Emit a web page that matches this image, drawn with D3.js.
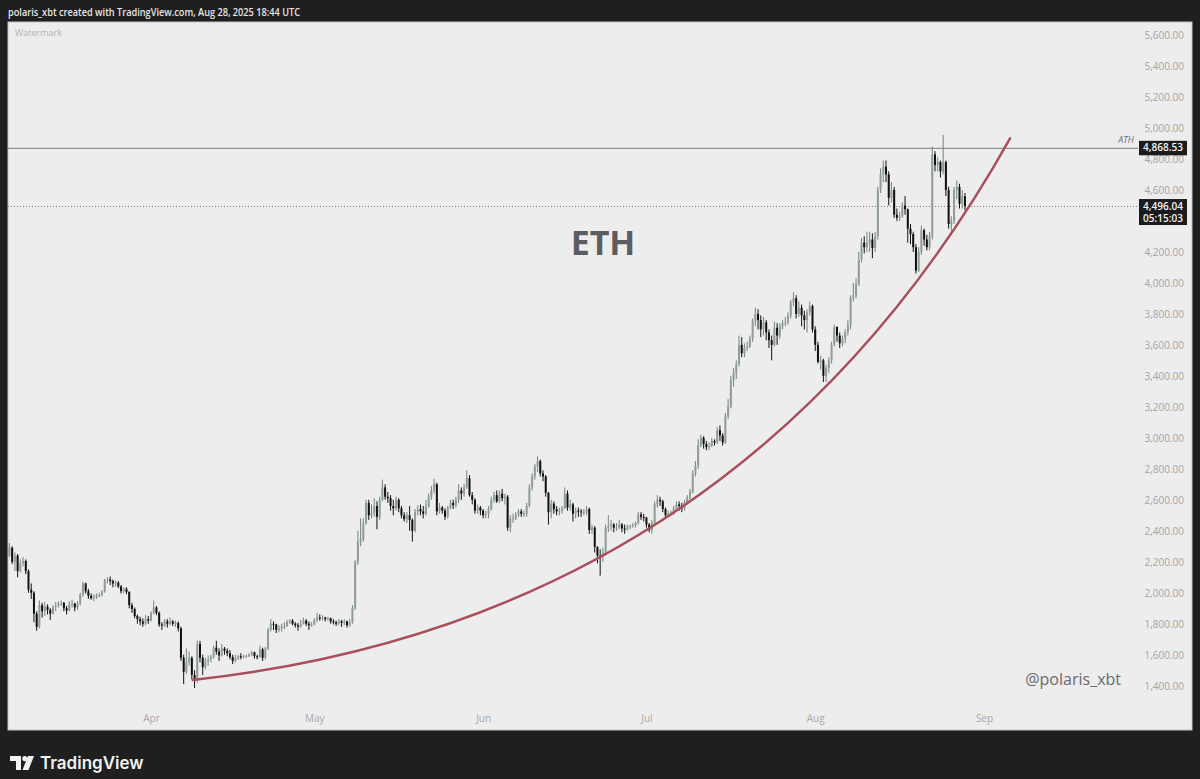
<!DOCTYPE html>
<html><head><meta charset="utf-8">
<script src="https://cdn.jsdelivr.net/npm/d3@7"></script>
<style>html,body{margin:0;padding:0;background:#1f1f1f;overflow:hidden}</style>
</head><body><svg id="c" width="1200" height="779"></svg>
<script>
// ---------------- DATA (ETH/USD, 12h candles) ----------------
const candleStartUTC = "2025-03-06T00:00:00Z";
const candleHours = 12;
const firstOpen = 2240;
const closes = [
// Mar 6 - Mar 31
2290,2200, 2240,2140, 2190,2205, 2140,2020, 2000,1865, 1780,1920, 1880,1910, 1890,1865, 1910,1915, 1930,1935,
1900,1885, 1925,1930, 1905,1930, 1990,2060, 2010,1980, 1965,1970, 1985,1985, 2010,2080, 2085,2075, 2060,2065,
2040,2010, 2025,2005, 1920,1895, 1850,1830, 1815,1800, 1830,1820,
// Apr
1870,1905, 1870,1795, 1790,1815, 1800,1815, 1800,1805, 1770,1580, 1490,1550, 1580,1470, 1440,1670, 1580,1520,
1560,1570, 1585,1645, 1620,1595, 1640,1625, 1610,1585, 1560,1575, 1590,1585, 1590,1590, 1600,1615, 1590,1585,
1635,1580, 1640,1760, 1800,1795, 1760,1770, 1780,1785, 1810,1820, 1800,1790, 1780,1800, 1820,1800, 1790,1795,
// May
1825,1840, 1835,1840, 1830,1835, 1815,1810, 1800,1815, 1805,1815, 1790,1810, 1900,2200, 2330,2345, 2450,2580,
2500,2515, 2560,2490, 2600,2680, 2620,2610, 2560,2545, 2600,2545, 2500,2475, 2500,2470, 2400,2520, 2540,2525,
2510,2555, 2620,2660, 2700,2525, 2550,2530, 2490,2550, 2580,2565, 2600,2660, 2640,2680, 2740,2630, 2600,2530,
2550,2530,
// Jun
2500,2510, 2540,2600, 2630,2590, 2640,2610, 2620,2420, 2480,2480, 2500,2525, 2510,2510, 2560,2680, 2750,2815,
2850,2770, 2750,2645, 2520,2575, 2540,2525, 2530,2545, 2640,2550, 2570,2510, 2530,2525, 2520,2520, 2540,2405,
2420,2295, 2240,2230, 2260,2420, 2430,2440, 2420,2420, 2440,2415, 2410,2425, 2430,2435, 2450,2505, 2490,2485,
// Jul
2440,2405, 2450,2570, 2600,2590, 2540,2500, 2510,2515, 2540,2570, 2560,2545, 2580,2615, 2650,2770, 2820,2950,
3000,2960, 2940,2945, 2980,2970, 3050,3015, 2970,3140, 3200,3370, 3420,3475, 3600,3545, 3580,3590, 3640,3755,
3800,3760, 3700,3745, 3680,3630, 3600,3710, 3660,3720, 3740,3745, 3790,3875, 3900,3800, 3840,3790, 3760,3810,
3850,3700,
// Aug
3600,3490, 3500,3400, 3450,3500, 3600,3715, 3660,3610, 3640,3680, 3730,3905, 3920,3990, 4150,4260, 4230,4255,
4280,4225, 4300,4600, 4700,4750, 4700,4550, 4600,4440, 4420,4430, 4500,4475, 4350,4315, 4230,4080, 4200,4340,
4280,4230, 4300,4830, 4760,4780, 4720,4780, 4600,4380, 4400,4600, 4620,4510, 4560,4496.04
];
const highs = [
2320,2300, 2260,2250, 2215,2230, 2215,2150, 2060,2010, 1880,1950, 1935,1940, 1925,1900, 1920,1940, 1945,1950,
1940,1915, 1945,1955, 1935,1945, 2000,2070, 2065,2025, 1995,1990, 1995,2000, 2015,2090, 2100,2105, 2085,2080,
2075,2050, 2035,2035, 2010,1935, 1905,1860, 1845,1835, 1855,1850,
1880,1950, 1915,1880, 1810,1830, 1830,1840, 1825,1820, 1815,1780, 1600,1640, 1620,1590, 1500,1690, 1690,1600,
1580,1595, 1600,1660, 1690,1640, 1670,1650, 1640,1630, 1600,1600, 1600,1610, 1600,1600, 1610,1625, 1620,1600,
1660,1645, 1650,1775, 1830,1815, 1800,1790, 1800,1810, 1825,1830, 1830,1810, 1805,1825, 1840,1830, 1815,1810,
1835,1870, 1860,1855, 1845,1845, 1840,1830, 1820,1830, 1825,1830, 1820,1830, 1920,2210, 2400,2480, 2480,2600,
2600,2570, 2610,2590, 2620,2730, 2700,2650, 2630,2600, 2620,2610, 2560,2520, 2520,2560, 2480,2540, 2565,2570,
2560,2600, 2640,2690, 2735,2710, 2580,2560, 2545,2560, 2600,2600, 2620,2700, 2680,2700, 2790,2760, 2650,2610,
2570,2560,
2540,2530, 2560,2620, 2650,2660, 2660,2670, 2640,2630, 2500,2510, 2520,2540, 2540,2530, 2580,2700, 2770,2830,
2880,2860, 2790,2760, 2650,2600, 2590,2560, 2550,2560, 2680,2660, 2600,2580, 2550,2550, 2540,2540, 2560,2550,
2440,2430, 2300,2280, 2290,2440, 2500,2470, 2450,2450, 2470,2450, 2440,2440, 2440,2450, 2460,2520, 2520,2510,
2490,2450, 2470,2590, 2630,2620, 2600,2550, 2530,2530, 2560,2590, 2590,2580, 2600,2630, 2670,2790, 2850,2990,
3020,3010, 2980,2970, 3000,2990, 3070,3080, 3030,3160, 3250,3400, 3450,3500, 3660,3650, 3610,3620, 3660,3770,
3840,3830, 3790,3780, 3760,3700, 3660,3750, 3740,3740, 3760,3780, 3810,3890, 3940,3920, 3880,3860, 3820,3830,
3880,3860,
3720,3620, 3530,3510, 3470,3520, 3620,3730, 3720,3680, 3660,3700, 3760,3920, 4000,4030, 4200,4290, 4300,4330,
4330,4320, 4330,4620, 4740,4790, 4790,4720, 4650,4620, 4480,4460, 4520,4560, 4480,4380, 4330,4250, 4230,4370,
4350,4310, 4330,4880, 4850,4810, 4790,4955, 4790,4620, 4430,4620, 4660,4640, 4600,4580
];
const lows = [
2230,2185, 2140,2100, 2130,2170, 2120,2000, 1960,1810, 1755,1770, 1840,1850, 1860,1825, 1860,1880, 1905,1915,
1880,1860, 1880,1905, 1880,1890, 1920,1975, 1995,1960, 1955,1945, 1960,1970, 1975,2000, 2060,2050, 2035,2040,
2030,1995, 1995,1990, 1900,1870, 1835,1800, 1790,1780, 1790,1800,
1815,1860, 1855,1780, 1760,1780, 1775,1790, 1785,1780, 1750,1560, 1410,1475, 1530,1440, 1385,1420, 1550,1470,
1505,1530, 1550,1575, 1600,1560, 1590,1600, 1590,1570, 1540,1550, 1565,1570, 1575,1580, 1585,1590, 1575,1570,
1580,1560, 1570,1630, 1750,1760, 1740,1745, 1750,1765, 1780,1800, 1790,1775, 1755,1775, 1795,1785, 1760,1780,
1790,1810, 1820,1820, 1815,1820, 1800,1795, 1785,1790, 1780,1790, 1775,1780, 1800,1890, 2180,2300, 2330,2440,
2470,2480, 2490,2410, 2470,2590, 2600,2580, 2530,2500, 2530,2520, 2480,2460, 2450,2400, 2330,2390, 2500,2500,
2480,2500, 2550,2600, 2640,2500, 2510,2510, 2470,2480, 2540,2540, 2550,2580, 2600,2620, 2670,2620, 2570,2510,
2510,2500,
2480,2480, 2480,2530, 2580,2580, 2580,2590, 2570,2400, 2390,2450, 2470,2490, 2490,2490, 2490,2550, 2660,2730,
2780,2750, 2720,2620, 2440,2480, 2510,2500, 2500,2510, 2540,2530, 2530,2460, 2480,2490, 2490,2500, 2500,2380,
2380,2260, 2190,2110, 2200,2240, 2390,2400, 2390,2400, 2410,2390, 2380,2400, 2410,2420, 2420,2440, 2470,2460,
2420,2390, 2380,2440, 2550,2560, 2520,2480, 2490,2500, 2500,2530, 2530,2520, 2530,2570, 2600,2640, 2750,2800,
2940,2930, 2920,2920, 2940,2950, 2960,2980, 2950,2960, 3120,3190, 3330,3380, 3460,3520, 3520,3560, 3580,3620,
3720,3700, 3650,3660, 3630,3580, 3500,3590, 3600,3640, 3700,3720, 3730,3770, 3850,3770, 3780,3720, 3700,3680,
3790,3680,
3560,3480, 3440,3360, 3360,3420, 3480,3590, 3620,3580, 3590,3610, 3660,3700, 3880,3900, 3980,4130, 4190,4200,
4200,4160, 4200,4280, 4580,4650, 4650,4500, 4520,4420, 4400,4400, 4420,4440, 4260,4250, 4200,4060, 4070,4180,
4240,4210, 4210,4280, 4720,4720, 4680,4700, 4560,4350, 4310,4380, 4540,4480, 4480,4470
];
const monthTicks = ["2025-04-01","2025-05-01","2025-06-01","2025-07-01","2025-08-01","2025-09-01"];
// 4,400.00 sits fully under the live-price label in the reference, so it is not listed
const priceTicks = [1400,1600,1800,2000,2200,2400,2600,2800,3000,3200,3400,3600,3800,4000,4200,4600,4800,5000,5200,5400,5600];
const athPrice = 4868.53;
const lastPrice = 4496.04;
const countdown = "05:15:03";
// hand-drawn curve (TradingView curve tool: start, control, end)
const curveStart   = ["2025-04-08T16:00:00Z", 1437];
const curveControl = ["2025-07-18T04:00:00Z", 1824];
const curveEnd     = ["2025-09-05T19:00:00Z", 4933];
const headerText = "polaris_xbt created with TradingView.com, Aug 28, 2025 18:44 UTC";

// ---------------- BUILD ----------------
const W = 1200, H = 779;
const P = {x0: 8, y0: 22, x1: 1192, y1: 730, plotRight: 1138};
const svg = d3.select("#c");
const FONT = "'Open Sans', 'Liberation Sans', sans-serif";

svg.append("rect").attr("width", W).attr("height", H).attr("fill", "#1f1f1f");
svg.append("rect").attr("x", P.x0).attr("y", P.y0).attr("width", P.x1 - P.x0).attr("height", P.y1 - P.y0)
  .attr("fill", "#ededee").attr("stroke", "#c4c4c4").attr("stroke-width", 1);

const x = d3.scaleUtc().domain([new Date("2025-04-01T00:00:00Z"), new Date("2025-09-01T00:00:00Z")]).range([151, 984]);
const y = d3.scaleLinear().domain([1400, 5600]).range([685.7, 35]);

const t0 = new Date(candleStartUTC).getTime();
const candles = closes.map((c, i) => ({
  t: new Date(t0 + i * candleHours * 3600e3),
  o: i === 0 ? firstOpen : closes[i - 1],
  h: highs[i], l: lows[i], c: c
}));

svg.append("defs").append("clipPath").attr("id", "plotclip")
  .append("rect").attr("x", P.x0).attr("y", P.y0).attr("width", P.plotRight - P.x0).attr("height", P.y1 - P.y0);

const plot = svg.append("g").attr("clip-path", "url(#plotclip)");

// header
svg.append("text").attr("x", 8).attr("y", 16).text(headerText)
  .attr("font-family", FONT).attr("font-size", 11).attr("font-weight", 600).attr("fill", "#e6e6e6")
  .attr("textLength", 292).attr("lengthAdjust", "spacingAndGlyphs");

// watermark label
svg.append("text").attr("x", 15).attr("y", 36).text("Watermark")
  .attr("font-family", FONT).attr("font-size", 9).attr("fill", "#b4b4b6");

// ETH title
svg.append("text").attr("x", 603).attr("y", 255).attr("text-anchor", "middle").text("ETH")
  .attr("font-family", FONT).attr("font-size", 34).attr("font-weight", 700).attr("fill", "#5b5d63");

// author
svg.append("text").attr("x", 1121).attr("y", 685).attr("text-anchor", "end").text("@polaris_xbt")
  .attr("font-family", FONT).attr("font-size", 16).attr("fill", "#6a6a6c");

// y axis
const yAxis = d3.axisRight(y).tickValues(priceTicks).tickFormat(d3.format(",.2f")).tickSize(0);
const gy = svg.append("g").attr("transform", "translate(1184,0)").call(yAxis);
gy.select(".domain").remove();
gy.selectAll("text").attr("x", 0).attr("dy", "0.35em").attr("text-anchor", "end")
  .attr("font-family", FONT).attr("font-size", 10).attr("fill", "#a4a4a6");

// x axis
const xAxis = d3.axisBottom(x).tickValues(monthTicks.map(d => new Date(d + "T00:00:00Z")))
  .tickFormat(d3.utcFormat("%b")).tickSize(0);
const gx = svg.append("g").attr("transform", "translate(0,718)").call(xAxis);
gx.select(".domain").remove();
gx.selectAll("text").attr("y", 0).attr("dy", "0.35em")
  .attr("font-family", FONT).attr("font-size", 10).attr("fill", "#a8a8aa");

// ATH line + dotted last price line
plot.append("line").attr("x1", P.x0).attr("x2", P.plotRight).attr("y1", y(athPrice)).attr("y2", y(athPrice))
  .attr("stroke", "#7d7d7f").attr("stroke-width", 1);
plot.append("line").attr("x1", P.x0).attr("x2", P.plotRight).attr("y1", Math.round(y(lastPrice)) + 0.5).attr("y2", Math.round(y(lastPrice)) + 0.5)
  .attr("stroke", "#7d7d7f").attr("stroke-width", 1).attr("stroke-dasharray", "1,2");
svg.append("text").attr("x", 1134).attr("y", y(athPrice) - 5).attr("text-anchor", "end").text("ATH")
  .attr("font-family", FONT).attr("font-size", 9).attr("font-style", "italic").attr("fill", "#707072");

// candles
const bw = 2;
const g = plot.append("g");
g.selectAll("line.w").data(candles).join("line").attr("class", "w")
  .attr("x1", d => x(d.t)).attr("x2", d => x(d.t))
  .attr("y1", d => y(Math.max(d.h, d.o, d.c))).attr("y2", d => y(Math.min(d.l, d.o, d.c)))
  .attr("stroke", d => d.c >= d.o ? "#74837a" : "#121212").attr("stroke-width", 1);
g.selectAll("rect.b").data(candles).join("rect").attr("class", "b")
  .attr("x", d => x(d.t) - bw / 2).attr("width", bw)
  .attr("y", d => y(Math.max(d.o, d.c)))
  .attr("height", d => Math.max(1, Math.abs(y(d.o) - y(d.c))))
  .attr("fill", d => d.c >= d.o ? "#8e9e94" : "#111111");

// curve (quadratic bezier through the library scales)
const cp = [curveStart, curveControl, curveEnd].map(d => [x(new Date(d[0])), y(d[1])]);
const cpath = d3.path();
cpath.moveTo(cp[0][0], cp[0][1]);
cpath.quadraticCurveTo(cp[1][0], cp[1][1], cp[2][0], cp[2][1]);
plot.append("path").attr("d", cpath.toString())
  .attr("fill", "none").attr("stroke", "#a84f5b").attr("stroke-width", 2.4).attr("stroke-linecap", "round");

// price labels
function priceBox(val, lines, h, top) {
  svg.append("rect").attr("x", 1139).attr("y", top).attr("width", 48).attr("height", h).attr("fill", "#1c1c1e");
  lines.forEach((s, i) => {
    svg.append("text").attr("x", 1163).attr("y", top + 10.5 + i * 12.5).attr("text-anchor", "middle").text(s)
      .attr("font-family", FONT).attr("font-size", 10).attr("font-weight", 600).attr("fill", "#f4f4f4");
  });
}
priceBox(athPrice, [d3.format(",.2f")(athPrice)], 14.5, y(athPrice) - 7.5);
priceBox(lastPrice, [d3.format(",.2f")(lastPrice), countdown], 26, y(lastPrice) - 7);

// TradingView footer
const logo = svg.append("g").attr("fill", "#f2f2f2");
logo.append("path").attr("d", "M10,756 H21 V770 H16 V761 H10 Z");
logo.append("circle").attr("cx", 24.8).attr("cy", 758.6).attr("r", 2.6);
logo.append("path").attr("d", "M28,756 H34 L28.5,770 H22.5 Z");
svg.append("text").attr("x", 40).attr("y", 769).text("TradingView")
  .attr("font-family", "Inter, 'Open Sans', sans-serif").attr("font-size", 17).attr("font-weight", 600).attr("fill", "#f2f2f2");
</script></body></html>
